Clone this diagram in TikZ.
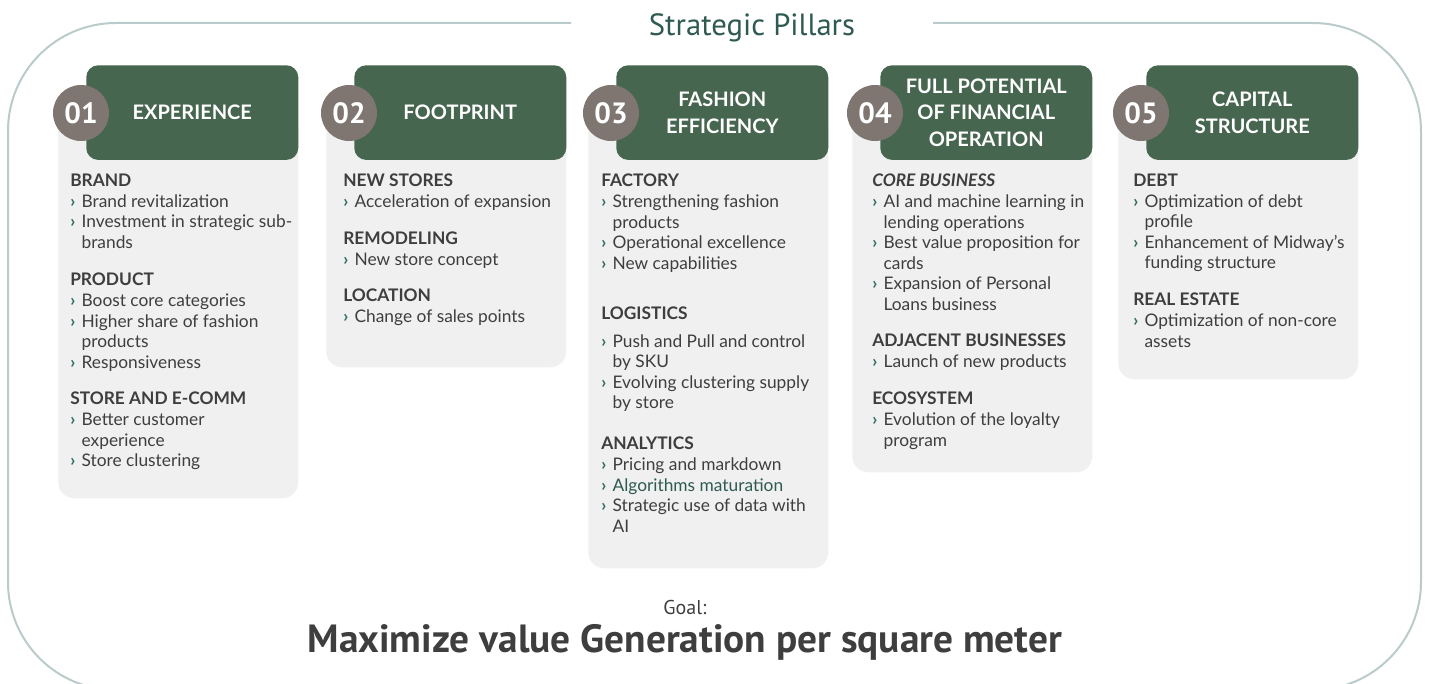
\documentclass[tikz,border=0pt]{standalone}
\usepackage{fontspec}
\setmainfont{Lato}
\newfontfamily\narrowfont{PT Sans}

\definecolor{pillargreen}{HTML}{476650}
\definecolor{badgegrey}{HTML}{7F7571}
\definecolor{cardgrey}{HTML}{F0F0F0}
\definecolor{framegrey}{HTML}{B9CBCA}
\definecolor{titleteal}{HTML}{2E5A52}
\definecolor{bodytext}{HTML}{3E3E3E}
\definecolor{bulletteal}{HTML}{2F6B62}

% bullet and continuation line inside a card
\newcommand{\nxt}{\makebox[8.5pt][l]{\color{bulletteal}\bfseries›}}
\newcommand{\wrp}{\hspace*{8.5pt}}

\begin{document}
\begin{tikzpicture}[
  x=0.75pt, y=-0.75pt,
  frame/.style={draw=framegrey, line width=1.5pt},
  card/.style={rectangle, fill=cardgrey, rounded corners=12pt, anchor=north west, minimum width=180pt, inner sep=0pt},
  header/.style={rectangle, fill=pillargreen, rounded corners=9pt, anchor=north west, minimum width=159pt, minimum height=71pt, text=white, align=center, font=\fontsize{15}{20}\selectfont\bfseries},
  badge/.style={circle, fill=badgegrey, minimum size=42pt, inner sep=0pt, text=white, font=\narrowfont\fontsize{22}{22}\selectfont\bfseries},
  sect/.style={anchor=north west, align=left, inner sep=0pt, text=bodytext, font=\fontsize{13}{15.4}\selectfont},
  title/.style={text=titleteal, font=\narrowfont\fontsize{23}{23}\selectfont},
  goal/.style={text=bodytext, font=\narrowfont\fontsize{15}{15}\selectfont},
  goalmain/.style={text=bodytext, font=\narrowfont\fontsize{29.5}{29.5}\selectfont\bfseries}
]
\path[use as bounding box, clip] (0,0) rectangle (1429,684);

% outer frame, open at the top for the title
\draw[frame, rounded corners=81pt] (571,23) -- (8,23) -- (8,690) -- (1421,690) -- (1421,23) -- (933,23);
\node[title] (pillars) at (752,28) {Strategic Pillars};

% cards: left edge / bottom edge / number / name
\foreach \x/\b/\n/\t in {58/498/01/EXPERIENCE, 326/367/02/FOOTPRINT, 588/568/03/{FASHION\\EFFICIENCY},
    852/472/04/{FULL POTENTIAL\\OF FINANCIAL\\OPERATION}, 1118/379/05/{CAPITAL\\STRUCTURE}} {
  \node[card, minimum height={(\b-110)*0.75pt}] (card\n) at (\x,110) {};
  \node[header] (head\n) at (\x+28,65) {\t};
  \node[badge] (num\n) at (\x+23,113) {\n};
}

% 01 experience
\node[sect] (brand) at (70,174) {\textbf{BRAND}\\
  \nxt Brand revitalization\\
  \nxt Investment in strategic sub-\\
  \wrp brands};
\node[sect] (product) at (70,273) {\textbf{PRODUCT}\\
  \nxt Boost core categories\\
  \nxt Higher share of fashion\\
  \wrp products\\
  \nxt Responsiveness};
\node[sect] (store) at (70,392) {\textbf{STORE AND E-COMM}\\
  \nxt Better customer\\
  \wrp experience\\
  \nxt Store clustering};

% 02 footprint
\node[sect] (newstores) at (343,174) {\textbf{NEW STORES}\\
  \nxt Acceleration of expansion};
\node[sect] (remodel) at (343,232) {\textbf{REMODELING}\\
  \nxt New store concept};
\node[sect] (location) at (343,289) {\textbf{LOCATION}\\
  \nxt Change of sales points};

% 03 fashion efficiency
\node[sect] (factory) at (601,174) {\textbf{FACTORY}\\
  \nxt Strengthening fashion\\
  \wrp products\\
  \nxt Operational excellence\\
  \nxt New capabilities};
\node[sect] (logistics) at (601,307) {\textbf{LOGISTICS}\\[5pt]
  \nxt Push and Pull and control\\
  \wrp by SKU\\
  \nxt Evolving clustering supply\\
  \wrp by store};
\node[sect] (analytics) at (601,437) {\textbf{ANALYTICS}\\
  \nxt Pricing and markdown\\
  \nxt {\color{titleteal}Algorithms maturation}\\
  \nxt Strategic use of data with\\
  \wrp AI};

% 04 financial operation
\node[sect] (core) at (872,174) {\textbf{\textit{CORE BUSINESS}}\\
  \nxt AI and machine learning in\\
  \wrp lending operations\\
  \nxt Best value proposition for\\
  \wrp cards\\
  \nxt Expansion of Personal\\
  \wrp Loans business};
\node[sect] (adjacent) at (872,334) {\textbf{ADJACENT BUSINESSES}\\
  \nxt Launch of new products};
\node[sect] (ecosystem) at (872,392) {\textbf{ECOSYSTEM}\\
  \nxt Evolution of the loyalty\\
  \wrp program};

% 05 capital structure
\node[sect] (debt) at (1133,174) {\textbf{DEBT}\\
  \nxt Optimization of debt\\
  \wrp profile\\
  \nxt Enhancement of Midway's\\
  \wrp funding structure};
\node[sect] (realestate) at (1133,293) {\textbf{REAL ESTATE}\\
  \nxt Optimization of non-core\\
  \wrp assets};

% goal line
\node[goal] (goallabel) at (685,607) {Goal:};
\node[goalmain] (goaltext) at (685,642) {Maximize value Generation per square meter};

\end{tikzpicture}
\end{document}
